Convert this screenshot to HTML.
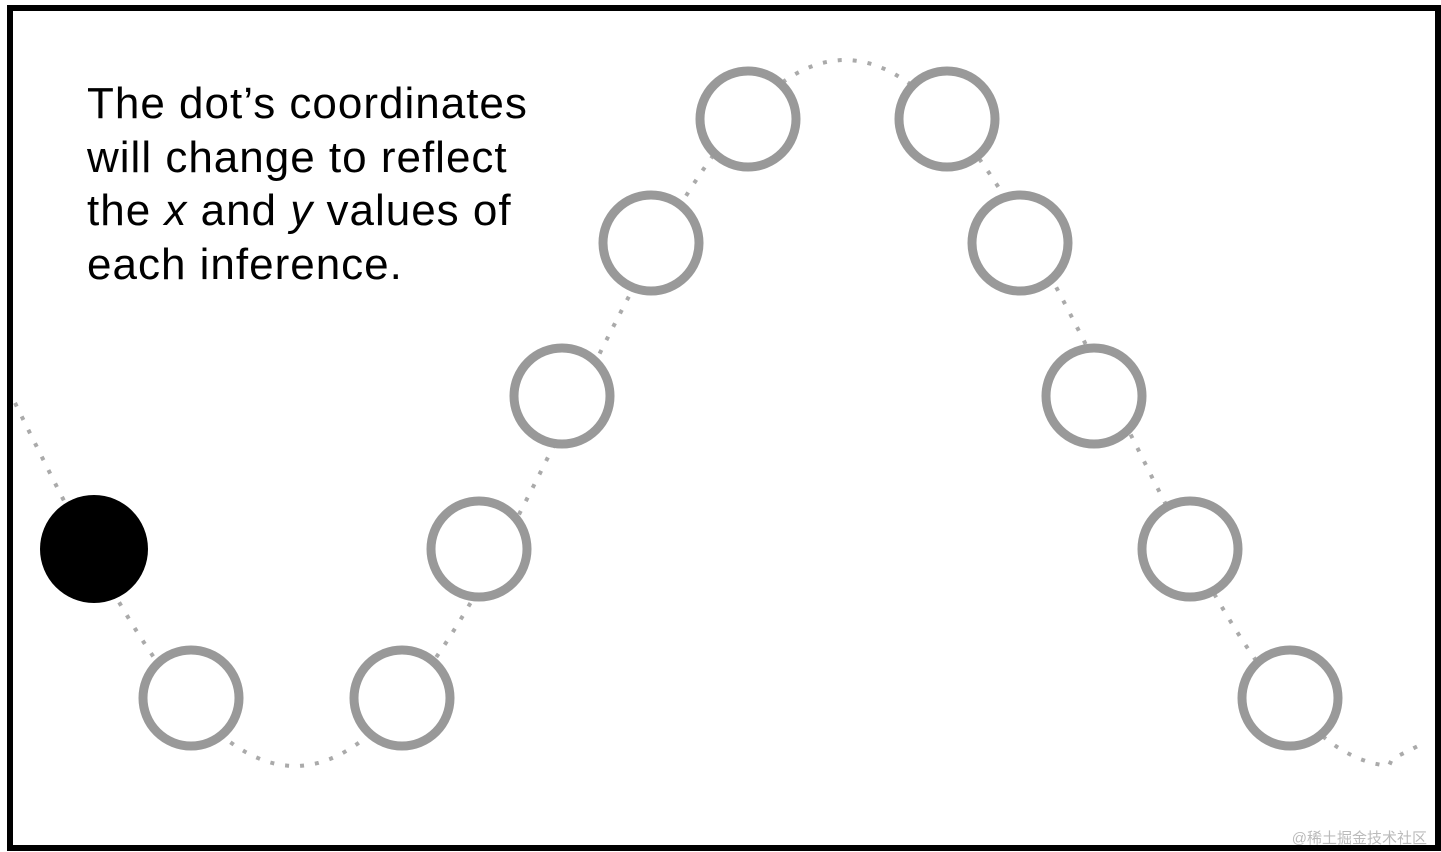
<!DOCTYPE html>
<html><head><meta charset="utf-8"><style>
html,body{margin:0;padding:0;background:#fff;}
body{width:1441px;height:852px;position:relative;overflow:hidden;}
.frame{position:absolute;left:7px;top:5px;width:1422px;height:834px;border:6px solid #000;box-sizing:content-box;}
.txt{position:absolute;left:87px;top:77px;font-family:"Liberation Sans",sans-serif;font-size:44px;line-height:53.5px;color:#000;letter-spacing:1px;white-space:nowrap;}
.wm{position:absolute;right:14px;bottom:4px;font-family:"Liberation Sans","Noto Sans CJK SC",sans-serif;font-size:15px;color:#bbb;}
svg{position:absolute;left:0;top:0;}
</style></head><body>
<svg width="1441" height="852" viewBox="0 0 1441 852">
<path id="curve" fill="none" stroke="#aaa" stroke-width="4" stroke-dasharray="4 11" d=""/>
<g fill="#fff" stroke="#999" stroke-width="9">
<circle cx="191" cy="698" r="48"/>
<circle cx="402" cy="698" r="48"/>
<circle cx="479" cy="549" r="48"/>
<circle cx="562" cy="396" r="48"/>
<circle cx="651" cy="243" r="48"/>
<circle cx="748" cy="119" r="48"/>
<circle cx="947" cy="119" r="48"/>
<circle cx="1020" cy="243" r="48"/>
<circle cx="1094" cy="396" r="48"/>
<circle cx="1190" cy="549" r="48"/>
<circle cx="1290" cy="698" r="48"/>
</g>
<circle cx="94" cy="549" r="54" fill="#000"/>
</svg>
<script>
(function(){var d="";for(var x=15;x<=1420;x+=3){var y=413-353*Math.cos(2*Math.PI*(x-845)/1100);if(x>1390){y=760-(x-1390)*0.5;}d+=(x==15?"M":"L")+x+" "+y.toFixed(1)+" ";}document.getElementById("curve").setAttribute("d",d);})();
</script>
<div class="frame"></div>
<div class="txt">The dot’s coordinates<br>will change to reflect<br>the <i>x</i> and <i>y</i> values of<br>each inference.</div>
<div class="wm">@稀土掘金技术社区</div>
</body></html>
